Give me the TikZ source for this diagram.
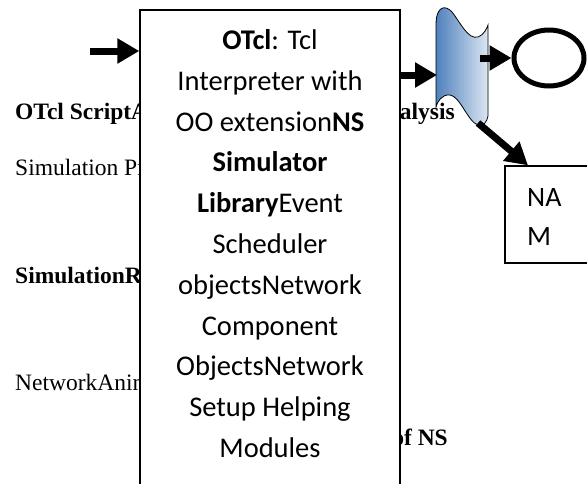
\documentclass[tikz,border=0pt]{standalone}
\usepackage{fontspec}
\setmainfont{Liberation Serif}
\newfontfamily\carlito{Carlito}
\usetikzlibrary{arrows.meta,shapes.geometric}
\definecolor{tapeblue}{HTML}{4F81BD}
\definecolor{tapelight}{HTML}{DCE6F2}
\tikzset{
  serif/.style={font=\fontsize{23.5}{26}\selectfont, inner sep=0pt, anchor=base west},
  serifR/.style={font=\fontsize{23.5}{26}\selectfont\bfseries, inner sep=0pt, anchor=base east},
  bigarrow/.style={line width=7pt, -{Triangle[length=22pt,width=24pt]}},
  boxline/.style={draw=black, line width=1.4pt, fill=white},
}
\begin{document}
\begin{tikzpicture}[x=1pt,y=-1pt]
\useasboundingbox (0,0) rectangle (587,483);
\clip (0,0) rectangle (587,483);
\fill[white] (0,0) rectangle (587,483);
% left texts (partly hidden behind the box)
\node[serif] (t1) at (15,119) {\bfseries OTcl ScriptA};
\node[serif] (t2) at (15,175) {Simulation Program};
\node[serif] (t3) at (15,283) {\bfseries SimulationResults};
\node[serif] (t4) at (15,390) {NetworkAnimator};
\node[serifR] (t5) at (455,119) {Analysis};
\node[serifR] (t6) at (448,445) {of NS};
% main box
\node[boxline, minimum width=260pt, minimum height=480pt, inner sep=0pt] (main) at (270,250) {};
\node[inner sep=0pt, anchor=base, align=center,
      font=\carlito\fontsize{28.5}{40.8}\selectfont] (mtext) at (270,457.5)
  {\textbf{OTcl}: Tcl\\Interpreter with\\OO extension\textbf{NS}\\\textbf{Simulator}\\\textbf{Library}Event\\Scheduler\\objectsNetwork\\Component\\ObjectsNetwork\\Setup Helping\\Modules};
% tape shape
\path[draw=black, line width=0.8pt, left color=tapeblue, right color=tapelight]
  (436,25) .. controls (436,5) and (446,5) .. (452,12)
  .. controls (460,22) and (468,40) .. (478,37)
  .. controls (484,35) and (487,28) .. (488,25)
  -- (488,116)
  .. controls (487,122) and (483,127) .. (478,125)
  .. controls (468,122) and (460,96) .. (450,95)
  .. controls (442,94) and (437,102) .. (436,107) -- cycle;
\coordinate (tapeW) at (437,75);
\coordinate (tapeE) at (480,58);
\coordinate (tapeB) at (478,123);
% ellipse
\node[draw=black, line width=5pt, ellipse, minimum width=70pt, minimum height=56pt, inner sep=0pt] (ell) at (549,58) {};
% NAM box
\node[draw=black, line width=1.3pt, minimum width=84pt, minimum height=97pt, inner sep=0pt] (nam) at (547,214.5) {};
\node[inner sep=0pt, anchor=base west, align=left, font=\carlito\fontsize{28}{39}\selectfont] (namt) at (527,245) {NA\\M};
% arrows
\coordinate (inL) at (90,51);
\draw[bigarrow] (inL) -- (inL -| main.west);
\draw[bigarrow] (main.east |- tapeW) -- (tapeW);
\draw[bigarrow] (tapeE) -- (ell.west);
\draw[bigarrow] (tapeB) -- (nam.north -| 528,0);
\end{tikzpicture}
\end{document}
